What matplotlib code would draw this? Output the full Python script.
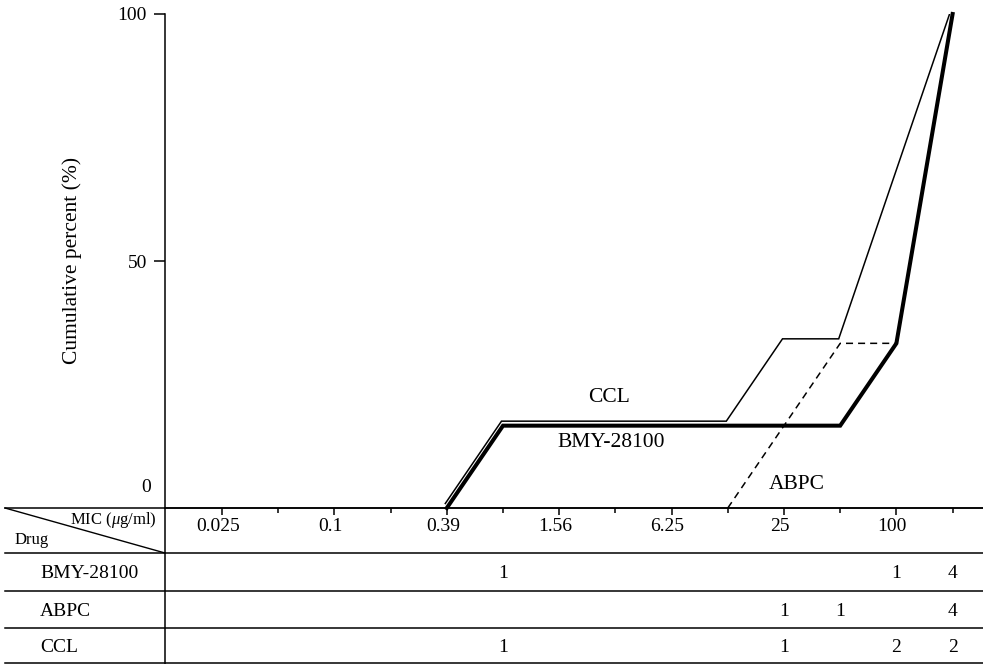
import matplotlib
matplotlib.use("Agg")
import matplotlib.pyplot as plt
import numpy as np
from matplotlib.transforms import ScaledTranslation, blended_transform_factory

plt.rcParams['font.family'] = ['Liberation Serif', 'DejaVu Serif']
plt.rcParams['mathtext.fontset'] = 'custom'
plt.rcParams['mathtext.rm'] = 'Liberation Serif'
plt.rcParams['mathtext.it'] = 'Liberation Serif:italic'

# MIC dilution series (µg/ml) and number of strains inhibited at each step
mic_values = ["0.025", "0.05", "0.1", "0.2", "0.39", "0.78", "1.56",
              "3.13", "6.25", "12.5", "25", "50", "100", "200"]
labeled_mics = ["0.025", "0.1", "0.39", "1.56", "6.25", "25", "100"]
drugs = ["BMY-28100", "ABPC", "CCL"]
bmy_counts = [0, 0, 0, 0, 0, 1, 0, 0, 0, 0, 0, 0, 1, 4]
abpc_counts = [0, 0, 0, 0, 0, 0, 0, 0, 0, 0, 1, 1, 0, 4]
ccl_counts = [0, 0, 0, 0, 0, 1, 0, 0, 0, 0, 1, 0, 2, 2]
y_ticks = [50, 100]

W, H, DPI = 983, 664, 100
fig = plt.figure(figsize=(W / DPI, H / DPI), dpi=DPI)
fig.patch.set_facecolor("white")

# geometry in pixels
x_left, x_right = 165, 983
y_axis, y_top = 508, 14
first_px, step_px = 222, 56.2
xlim = ((x_left - first_px) / step_px, (x_right - first_px) / step_px)

ax = fig.add_axes([x_left / W, (H - y_axis) / H, (x_right - x_left) / W, (y_axis - y_top) / H])
ax.set_xlim(*xlim)
ax.set_ylim(0, 100)
for s in ("top", "right"):
    ax.spines[s].set_visible(False)
for s in ("left", "bottom"):
    ax.spines[s].set_linewidth(1.1)


def cumulative(counts):
    c = np.asarray(counts, dtype=float)
    cum = np.cumsum(c) / c.sum() * 100
    start = int(np.argmax(c > 0)) - 1
    idx = np.arange(len(c))
    return idx[start:], cum[start:]


xb, yb = cumulative(bmy_counts)
xa, ya = cumulative(abpc_counts)
xc, yc = cumulative(ccl_counts)

ax.plot(xb, yb, color="black", lw=2.9, solid_joinstyle="miter", clip_on=False, zorder=3)
# CCL drawn a hair above so it stays visible alongside BMY-28100
ccl_shift = ax.transData + ScaledTranslation(-1.5 / DPI, 4.5 / DPI, fig.dpi_scale_trans)
ax.plot(xc, yc, color="black", lw=1.1, solid_joinstyle="miter", clip_on=True,
        transform=ccl_shift, zorder=4)
ax.plot(xa, ya, color="black", lw=1.1, dashes=(4.6, 3.3), clip_on=False, zorder=4)

ax.text(6.89, 22.3, "CCL", ha="center", va="center", fontsize=15.5)
ax.text(6.92, 13.2, "BMY-28100", ha="center", va="center", fontsize=15.5)
ax.text(10.23, 4.7, "ABPC", ha="center", va="center", fontsize=15.5)

# y axis
ax.set_yticks(y_ticks)
ax.set_yticklabels([str(v) for v in y_ticks])
ax.tick_params(axis="y", length=8, width=1.1, pad=5, labelsize=14)
fig_x = blended_transform_factory(fig.transFigure, ax.transData)
ax.text(151 / W, 4.25, "0", transform=fig_x, ha="right", va="center", fontsize=14)
fig.text(72 / W, 1 - 260 / H, "Cumulative percent (%)", rotation=90,
         ha="center", va="center", fontsize=15.5)

# x axis: every dilution ticked, alternate ones labelled
major_pos = [mic_values.index(m) for m in labeled_mics]
minor_pos = [i for i in range(len(mic_values)) if i not in major_pos]
ax.set_xticks(major_pos)
ax.set_xticklabels(labeled_mics)
ax.set_xticks(minor_pos, minor=True)
ax.tick_params(axis="x", which="major", length=5, width=1.1, pad=2, labelsize=14)
ax.tick_params(axis="x", which="minor", length=3.6, width=1.1)
shift = ScaledTranslation(-4 / DPI, 0, fig.dpi_scale_trans)
for lab in ax.get_xticklabels():
    lab.set_transform(lab.get_transform() + shift)

# count table below the axis
tbl_h = H - y_axis
ax_t = fig.add_axes([x_left / W, 0, (x_right - x_left) / W, tbl_h / H])
ax_t.set_xlim(*xlim)
ax_t.set_ylim(tbl_h, 0)
ax_t.set_xticks([])
ax_t.set_yticks([])
ax_t.patch.set_visible(False)
for s in ("top", "right", "bottom"):
    ax_t.spines[s].set_visible(False)
ax_t.spines["left"].set_linewidth(1.1)

tf = blended_transform_factory(fig.transFigure, ax_t.transData)
row_lines = [0, 45, 82.5, 119.5, 155]
for yl in row_lines:
    ax_t.plot([5 / W, 1.0], [yl, yl], color="black", lw=1.1, transform=tf, clip_on=False)
ax_t.plot([5 / W, x_left / W], [0, 45], color="black", lw=1.0, transform=tf, clip_on=False)

ax_t.text(157 / W, 12, r"MIC ($\mathit{\mu}$g/ml)", transform=tf, ha="right", va="center",
          fontsize=12)
ax_t.text(15 / W, 32, "Drug", transform=tf, ha="left", va="center", fontsize=12)

row_y = [65, 103, 140]
for name, counts, yy in zip(drugs, [bmy_counts, abpc_counts, ccl_counts], row_y):
    ax_t.text(40 / W, yy, name, transform=tf, ha="left", va="center", fontsize=14)
    for i, n in enumerate(counts):
        if n:
            ax_t.text(i, yy, str(n), ha="center", va="center", fontsize=14)

fig.savefig("out.png", dpi=DPI)
